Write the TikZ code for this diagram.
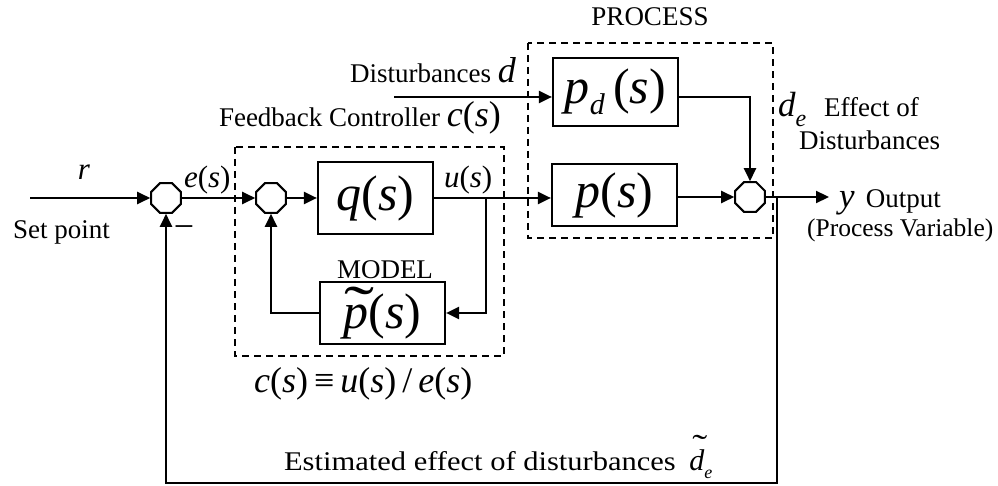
\documentclass[tikz,border=0pt]{standalone}
\usepackage{fontspec}
\setmainfont{Liberation Serif}
\usetikzlibrary{arrows.meta,shapes.geometric}
\newcommand\mv[1]{\textit{#1}}
\newcommand\fsz[1]{\fontsize{#1}{#1}\selectfont}
\begin{document}
\begin{tikzpicture}[x=1pt,y=-1pt,line width=2.2pt,
  arr/.style={-{Triangle[length=13pt,width=12pt]}},
  blockbox/.style={draw,line width=2.2pt,inner sep=0pt,minimum width=125pt,minimum height=62pt,font=\fsz{50}},
  sumn/.style={draw,regular polygon,regular polygon sides=8,minimum size=32pt,inner sep=0pt,line width=2pt},
  dbox/.style={draw,line width=1.8pt,dash pattern=on 7pt off 5pt},
  lbl/.style={inner sep=0pt,font=\fsz{27}},
  mlbl/.style={inner sep=0pt,font=\fsz{31}}]
\useasboundingbox (0,0) rectangle (998,486);
% dashed groups
\draw[dbox] (235,147) rectangle (504,356);
\draw[dbox] (528,43) rectangle (773,238);
% blocks
\node[sumn] (s1) at (166,198) {};
\node[sumn] (s2) at (271,198) {};
\node[sumn] (s3) at (750,197) {};
\node[blockbox,minimum width=115pt,minimum height=72pt] (q) at (375.5,198) {\mv{q}(\mv{s})};
\node[blockbox] (p) at (614.5,195) {\mv{p}(\mv{s})};
\node[blockbox,minimum height=68pt] (pd) at (615.5,92) {\mv{p}\raisebox{-0.22em}{\fsz{30}\mv{d}}\,(\mv{s})};
\node[blockbox] (m) at (382.5,313) {\ooalign{\hidewidth\hspace{0.12em}\raisebox{0.02em}{\scalebox{1.8}[1.2]{˜}}\hidewidth\cr\mv{p}\cr}(\mv{s})};
% coordinates
\coordinate (rin) at (30,198);
\coordinate (ub) at (486,198);
\coordinate (dstart) at (394,97);
\coordinate (yout) at (829,197);
\coordinate (fb) at (777,197);
\coordinate (fbb) at (777,483);
% connectors
\draw[arr] (rin) -- (s1.west);
\draw[arr] (s1.east) -- (s2.west);
\draw[arr] (s2.east) -- (q.west);
\draw[arr] (q.east) -- (p.west |- q.east);
\draw[arr] (ub) |- (m.east);
\draw[arr] (m.west) -| (s2.south);
\draw[arr] (dstart) -- (pd.west |- dstart);
\draw[arr] (pd.east |- dstart) -| (s3.north);
\draw[arr] (p.east |- s3.west) -- (s3.west);
\draw[arr] (s3.east) -- (yout);
\draw[arr] (fb) -- (fbb) -| (s1.south);
% labels
\node[mlbl,anchor=base] (rl) at (84,180) {\mv{r}};
\node[lbl,anchor=base west] (spl) at (12,239) {Set point};
\node[inner sep=0pt,font=\fsz{36},anchor=center] (minus) at (184,232) {−};
\node[mlbl,anchor=base west] (el) at (183,188) {\mv{e}(\mv{s})};
\node[mlbl,anchor=base west] (ul) at (443,188) {\mv{u}(\mv{s})};
\node[lbl,anchor=base east] (fcl) at (502,127) {Feedback Controller {\fsz{36}\mv{c}(\mv{s})}};
\node[lbl,anchor=base] (modl) at (385,278) {MODEL};
\node[lbl,anchor=base] (procl) at (650,26) {PROCESS};
\node[lbl,anchor=base east] (dl) at (517,83) {Disturbances {\fsz{36}\mv{d}}};
\node[inner sep=0pt,font=\fsz{35},anchor=base west] (del) at (777,117) {\mv{d}\raisebox{-0.28em}{\fsz{24}\mv{e}}};
\node[lbl,anchor=base west] (effl) at (823,117) {Effect of};
\node[lbl,anchor=base west] (distl) at (798,150) {Disturbances};
\node[lbl,anchor=base west] (outl) at (838,208) {{\fsz{35}\mv{y}}\, Output};
\node[inner sep=0pt,font=\fsz{25.5},anchor=base west] (pvl) at (806,237) {(Process Variable)};
\node[inner sep=0pt,font=\fsz{36},anchor=base west] (ceq) at (253,392) {\mv{c}(\mv{s})\,≡\,\mv{u}(\mv{s})\,/\,\mv{e}(\mv{s})};
\node[lbl,anchor=base west] (estl) at (283,470) {\scalebox{1.13}[1]{Estimated effect of disturbances}\ \ {\fsz{30}\ooalign{\hidewidth\hspace{0.2em}\raisebox{0.42em}{\scalebox{1.5}[1.1]{˜}}\hidewidth\cr\mv{d}\cr}}\raisebox{-0.3em}{\fsz{18}\mv{e}}};
\end{tikzpicture}
\end{document}
